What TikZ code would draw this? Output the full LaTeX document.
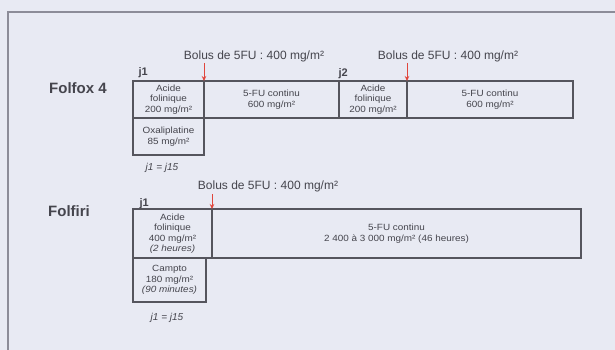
\documentclass[tikz,border=0pt]{standalone}
\usepackage{fontspec}
\setmainfont{Liberation Sans}
\newfontfamily\smallfont[FakeStretch=1.1]{Liberation Sans}
\usetikzlibrary{arrows.meta}
\definecolor{bg}{HTML}{E8EAF3}
\definecolor{ink}{HTML}{45454D}
\definecolor{boxline}{HTML}{55555D}
\definecolor{bolusred}{HTML}{E0463C}
\definecolor{framecol}{HTML}{8C8C98}
\begin{document}
\begin{tikzpicture}[x=1pt,y=-1pt,
  box/.style={draw=boxline, line width=1.1pt, rectangle, anchor=north west,
    inner sep=0pt, outer sep=0pt, align=center, text=ink,
    font={\smallfont\fontsize{9}{10.5}\selectfont}},
  regimen/.style={font={\bfseries\fontsize{15}{18}\selectfont}, text=ink},
  daylabel/.style={font={\bfseries\fontsize{11}{13}\selectfont}, text=ink, anchor=base west},
  bolus/.style={font={\fontsize{12}{14}\selectfont}, text=ink},
  cycle/.style={font={\itshape\fontsize{10}{12}\selectfont}, text=ink},
  bolusarrow/.style={draw=bolusred, line width=1pt, -{Stealth[length=5pt,width=4.5pt]}}
]
\fill[bg] (0,0) rectangle (615,350);
\useasboundingbox (0,0) rectangle (615,350);
% frame
\draw[framecol, line width=1.5pt] (615,12) -- (8,12) -- (8,350);

% Folfox 4
\node[regimen] (folfox) at (78,88) {Folfox 4};
\node[daylabel] (j1a) at (135,76) {j1};
\node[daylabel] (j2a) at (335,77) {j2};
\node[box, minimum width=71pt, minimum height=37pt] (acide1) at (133,81)
  {Acide\\folinique\\200 mg/m²};
\node[box, minimum width=135pt, minimum height=37pt] (fu1) at (204,81)
  {5-FU continu\\600 mg/m²};
\node[box, minimum width=68pt, minimum height=37pt] (acide2) at (339,81)
  {Acide\\folinique\\200 mg/m²};
\node[box, minimum width=166pt, minimum height=37pt] (fu2) at (407,81)
  {5-FU continu\\600 mg/m²};
\node[box, minimum width=71pt, minimum height=37pt] (oxa) at (133,118)
  {Oxaliplatine\\85 mg/m²};
\node[cycle] (cyc1) at (162,168) {j1 = j15};
\node[bolus] (bolus1) at (254,56) {Bolus de 5FU : 400 mg/m²};
\node[bolus] (bolus2) at (448,56) {Bolus de 5FU : 400 mg/m²};
\coordinate (b1) at (204,63);
\coordinate (b2) at (407,63);
\draw[bolusarrow] (b1) -- (acide1.north east);
\draw[bolusarrow] (b2) -- (acide2.north east);

% Folfiri
\node[regimen] (folfiri) at (69,211) {Folfiri};
\node[daylabel] (j1b) at (136,206) {j1};
\node[box, minimum width=79pt, minimum height=49pt] (acide3) at (133,209)
  {Acide\\folinique\\400 mg/m²\\\textit{(2 heures)}};
\node[box, minimum width=369pt, minimum height=49pt] (fu3) at (212,209)
  {5-FU continu\\2 400 à 3 000 mg/m² (46 heures)};
\node[box, minimum width=73pt, minimum height=44pt] (campto) at (133,258)
  {Campto\\180 mg/m²\\\textit{(90 minutes)}};
\node[cycle] (cyc2) at (167,318) {j1 = j15};
\node[bolus] (bolus3) at (268,186) {Bolus de 5FU : 400 mg/m²};
\coordinate (b3) at (212,194);
\draw[bolusarrow] (b3) -- (acide3.north east);
\end{tikzpicture}
\end{document}
